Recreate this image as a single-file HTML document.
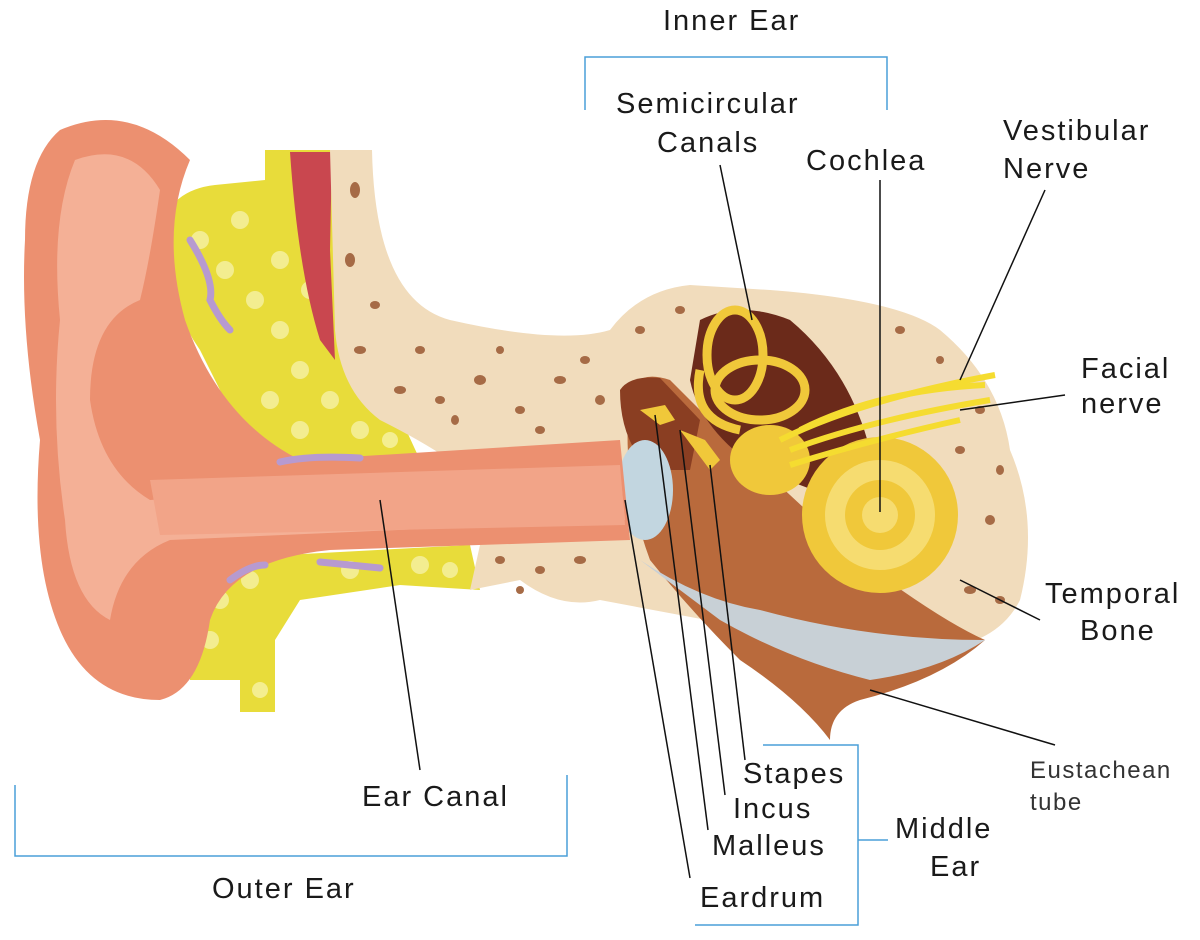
<!DOCTYPE html>
<html><head><meta charset="utf-8"><style>
html,body{margin:0;padding:0;background:#fff;}
svg{display:block}
text{font-family:"Liberation Sans",sans-serif;fill:#1a1a1a;}
</style></head><body>
<svg width="1200" height="940" viewBox="0 0 1200 940" xmlns="http://www.w3.org/2000/svg">
<!-- yellow fat tissue -->
<path d="M160 230 Q170 190 215 185 L265 180 L265 150 L360 150 L360 330 L420 460 L260 470 L200 350 Q165 300 160 230Z" fill="#e8dc3a"/>
<path d="M190 560 L470 545 L480 590 L400 585 L300 600 L275 640 L275 712 L240 712 L240 680 L190 680Z" fill="#e8dc3a"/>
<g fill="#f5ef9a" opacity="0.9">
<circle cx="200" cy="240" r="9"/><circle cx="225" cy="270" r="9"/><circle cx="255" cy="300" r="9"/><circle cx="280" cy="330" r="9"/><circle cx="300" cy="370" r="9"/><circle cx="330" cy="400" r="9"/><circle cx="360" cy="430" r="9"/><circle cx="240" cy="220" r="9"/><circle cx="280" cy="260" r="9"/><circle cx="310" cy="290" r="9"/><circle cx="270" cy="400" r="9"/><circle cx="300" cy="430" r="9"/><circle cx="220" cy="600" r="9"/><circle cx="250" cy="580" r="9"/><circle cx="210" cy="640" r="9"/><circle cx="350" cy="570" r="9"/><circle cx="420" cy="565" r="9"/><circle cx="260" cy="690" r="8"/><circle cx="390" cy="440" r="8"/><circle cx="450" cy="570" r="8"/>
</g>
<!-- red vessel -->
<path d="M290 152 L332 152 L330 250 L335 360 L320 340 Q298 270 290 152Z" fill="#c9474f"/>
<!-- bone -->
<path d="M330 150 L372 150 Q375 300 450 320 Q560 345 610 330 Q640 290 690 285 L770 290 Q900 300 940 330 Q1000 380 1010 450 Q1040 520 1020 600 Q990 660 880 650 L760 630 L600 600 Q560 610 520 580 L470 590 L480 545 L450 460 Q420 440 380 420 Q340 390 335 330Z" fill="#f1dcbc"/>
<g fill="#a66b46">
<ellipse cx="355" cy="190" rx="5" ry="8"/><ellipse cx="350" cy="260" rx="5" ry="7"/><ellipse cx="360" cy="350" rx="6" ry="4"/><ellipse cx="400" cy="390" rx="6" ry="4"/><ellipse cx="440" cy="400" rx="5" ry="4"/><ellipse cx="480" cy="380" rx="6" ry="5"/><ellipse cx="520" cy="410" rx="5" ry="4"/><ellipse cx="560" cy="380" rx="6" ry="4"/><ellipse cx="600" cy="400" rx="5" ry="5"/><ellipse cx="420" cy="350" rx="5" ry="4"/><ellipse cx="500" cy="560" rx="5" ry="4"/><ellipse cx="540" cy="570" rx="5" ry="4"/><ellipse cx="580" cy="560" rx="6" ry="4"/><ellipse cx="960" cy="450" rx="5" ry="4"/><ellipse cx="990" cy="520" rx="5" ry="5"/><ellipse cx="970" cy="590" rx="6" ry="4"/><ellipse cx="1000" cy="600" rx="5" ry="4"/><ellipse cx="930" cy="620" rx="5" ry="4"/><ellipse cx="680" cy="310" rx="5" ry="4"/><ellipse cx="900" cy="330" rx="5" ry="4"/>
<ellipse cx="375" cy="305" rx="5" ry="4"/><ellipse cx="455" cy="420" rx="4" ry="5"/><ellipse cx="540" cy="430" rx="5" ry="4"/><ellipse cx="500" cy="350" rx="4" ry="4"/><ellipse cx="585" cy="360" rx="5" ry="4"/><ellipse cx="640" cy="330" rx="5" ry="4"/><ellipse cx="940" cy="360" rx="4" ry="4"/><ellipse cx="980" cy="410" rx="5" ry="4"/><ellipse cx="1000" cy="470" rx="4" ry="5"/><ellipse cx="950" cy="640" rx="5" ry="4"/><ellipse cx="520" cy="590" rx="4" ry="4"/>
</g>
<!-- middle ear brown -->
<path d="M630 390 Q640 370 670 380 L720 430 L860 560 Q940 620 985 640 Q940 680 860 700 Q830 710 830 740 Q800 700 740 660 Q690 610 650 560 Q620 480 630 390Z" fill="#b96a3c"/>
<path d="M640 560 Q700 600 760 610 Q870 640 985 640 Q940 670 870 680 Q790 660 720 620Z" fill="#c8d0d6"/>
<path d="M620 390 Q630 375 660 378 L700 420 L690 470 L650 470 Q620 440 620 390Z" fill="#8a3e22"/>
<!-- inner cavity -->
<path d="M700 320 Q740 300 790 320 Q850 370 870 450 L840 500 L760 470 Q700 430 690 380Z" fill="#6b2a1a"/>
<!-- eardrum -->
<ellipse cx="645" cy="490" rx="28" ry="50" fill="#c2d6e0"/>
<!-- outer ear -->
<path d="M60 130 Q130 100 190 160 Q160 230 185 320 Q220 420 300 460 L620 440 L630 540 L330 550 Q230 560 210 620 Q200 690 160 700 Q90 700 60 630 Q30 560 40 440 Q20 330 25 240 Q25 160 60 130Z" fill="#ec9070"/>
<path d="M75 160 Q130 140 160 190 Q150 260 140 300 Q90 320 90 400 Q100 470 150 500 L620 470 L625 520 L170 540 Q120 560 110 620 Q70 600 65 520 Q50 420 60 320 Q50 220 75 160Z" fill="#f4b096"/>
<path d="M150 480 L620 465 L625 525 L160 535Z" fill="#f2a488"/>
<!-- purple vessels -->
<g stroke="#b79ad0" stroke-width="7" fill="none" stroke-linecap="round">
<path d="M190 240 Q215 280 210 300 Q220 320 230 330"/><path d="M280 462 Q310 455 360 458"/><path d="M230 580 Q250 565 265 565"/><path d="M320 562 Q350 565 380 568"/>
</g>
<!-- semicircular canals -->
<g stroke="#f0c83a" stroke-width="9" fill="none">
<ellipse cx="735" cy="355" rx="28" ry="45"/><ellipse cx="760" cy="390" rx="45" ry="30"/><path d="M700 370 Q690 420 740 430"/>
</g>
<!-- cochlea -->
<circle cx="880" cy="515" r="78" fill="#f0c83a"/>
<circle cx="880" cy="515" r="55" fill="#f6dc70"/>
<circle cx="880" cy="515" r="35" fill="#f0c83a"/>
<circle cx="880" cy="515" r="18" fill="#f6dc70"/>
<ellipse cx="770" cy="460" rx="40" ry="35" fill="#f0c83a"/>
<!-- nerves -->
<g stroke="#f5dc30" stroke-width="6" fill="none">
<path d="M780 440 Q860 400 995 375"/><path d="M790 450 Q870 420 990 400"/><path d="M800 430 Q880 390 985 385"/><path d="M790 465 Q870 440 960 420"/>
</g>
<!-- ossicles -->
<path d="M640 410 L665 405 L675 420 L660 425Z" fill="#f0c83a"/>
<path d="M680 430 L705 440 L720 460 L710 470Z" fill="#f0c83a"/>
<!-- leader lines -->
<g stroke="#111" stroke-width="1.5" fill="none">
<line x1="720" y1="165" x2="752" y2="320"/>
<line x1="880" y1="180" x2="880" y2="512"/>
<line x1="1045" y1="190" x2="960" y2="380"/>
<line x1="1065" y1="395" x2="960" y2="410"/>
<line x1="1040" y1="620" x2="960" y2="580"/>
<line x1="1055" y1="745" x2="870" y2="690"/>
<line x1="745" y1="760" x2="710" y2="465"/>
<line x1="725" y1="795" x2="680" y2="430"/>
<line x1="708" y1="830" x2="655" y2="415"/>
<line x1="690" y1="878" x2="625" y2="500"/>
<line x1="420" y1="770" x2="380" y2="500"/>
</g>
<!-- brackets -->
<g stroke="#4a9fd8" stroke-width="1.5" fill="none">
<path d="M585 110 L585 57 L887 57 L887 110"/>
<path d="M15 785 L15 856 L567 856 L567 775"/>
<path d="M763 745 L858 745 L858 925 L695 925"/>
<line x1="858" y1="840" x2="888" y2="840"/>
</g>
<g font-size="29" letter-spacing="2">
<text x="663" y="30">Inner Ear</text>
<text x="616" y="113">Semicircular</text>
<text x="657" y="152">Canals</text>
<text x="806" y="170">Cochlea</text>
<text x="1003" y="140">Vestibular</text>
<text x="1003" y="178">Nerve</text>
<text x="1081" y="378">Facial</text>
<text x="1081" y="413">nerve</text>
<text x="1045" y="603">Temporal</text>
<text x="1080" y="640">Bone</text>
<text x="743" y="783">Stapes</text>
<text x="733" y="818">Incus</text>
<text x="712" y="855">Malleus</text>
<text x="700" y="907">Eardrum</text>
<text x="895" y="838">Middle</text>
<text x="930" y="876">Ear</text>
<text x="362" y="806">Ear Canal</text>
<text x="212" y="898">Outer Ear</text>
</g>
<g font-size="24" letter-spacing="1.5">
<text x="1030" y="778" style="fill:#333">Eustachean</text>
<text x="1030" y="810" style="fill:#333">tube</text>
</g>
</svg>
</body></html>
